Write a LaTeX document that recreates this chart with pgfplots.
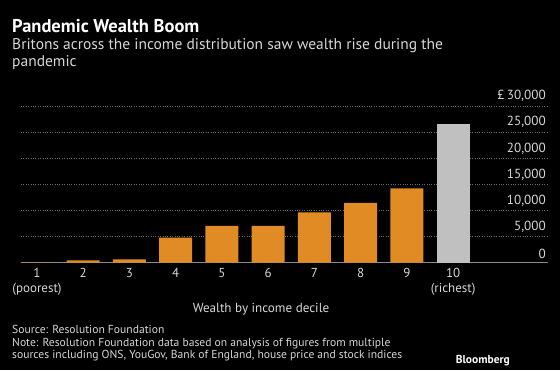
\documentclass[border=0pt]{standalone}
\usepackage{pgfplots}
\pgfplotsset{compat=1.18}
\usepackage{fontspec}
\setmainfont{PT Sans}
\definecolor{bbOrange}{RGB}{224,139,36}
\definecolor{bbGray}{RGB}{192,192,192}
\definecolor{txt}{RGB}{215,215,215}
\definecolor{gridc}{RGB}{110,110,110}
\definecolor{axc}{RGB}{140,140,140}
\begin{document}
\begin{tikzpicture}[x=1pt,y=1pt]
\fill[black] (0,0) rectangle (560,370);
\useasboundingbox (0,0) rectangle (560,370);
\node[anchor=base west,inner sep=0,text=white,font=\fontsize{18.5}{20}\selectfont\bfseries] at (12,337) {Pandemic Wealth Boom};
\node[anchor=base west,inner sep=0,text=txt,font=\fontsize{15.5}{17}\selectfont] at (12,320) {Britons across the income distribution saw wealth rise during the};
\node[anchor=base west,inner sep=0,text=txt,font=\fontsize{15.5}{17}\selectfont] at (12,303) {pandemic};
\begin{axis}[
  at={(21pt,107.3pt)}, anchor=south west,
  scale only axis, width=526pt, height=156.7pt,
  xmin=0.654, xmax=12.03, ymin=0, ymax=30000,
  axis x line*=bottom, axis y line*=right,
  x axis line style={draw=axc, line width=1pt},
  y axis line style={draw=none},
  major tick length=0pt,
  scaled y ticks=false,
  xtick={1,...,10},
  xticklabels={{1\\(poorest)},2,3,4,5,6,7,8,9,{10\\(richest)}},
  xticklabel style={align=center, text=txt, font=\fontsize{13}{15}\selectfont, anchor=north, yshift=-2pt},
  ytick={0,5000,10000,15000,20000,25000,30000},
  yticklabels={0,{5,000},{10,000},{15,000},{20,000},{25,000},{£\,30,000}},
  yticklabel pos=right,
  yticklabel style={anchor=south east, text=txt, font=\fontsize{13.2}{15}\selectfont, inner sep=1pt, xshift=0pt, yshift=3pt},
  /pgf/number format/assume math mode=true,
  ymajorgrids, grid style={gridc, dotted, line width=0.7pt},
  ybar, bar width=33pt, bar shift=0pt,
  clip=false,
]
\addplot[fill=bbOrange, draw=none] coordinates {(1,80) (2,460) (3,650) (4,4790) (5,7030) (6,7030) (7,9650) (8,11440) (9,14250)};
\addplot[fill=bbGray, draw=none] coordinates {(10,26570)};
\end{axis}
\node[anchor=base,inner sep=0,text=txt,font=\fontsize{13.1}{15}\selectfont] at (261,58) {Wealth by income decile};
\node[anchor=base west,inner sep=0,text=txt,font=\fontsize{11.6}{13}\selectfont] at (12,37) {Source: Resolution Foundation};
\node[anchor=base west,inner sep=0,text=txt,font=\fontsize{11.6}{13}\selectfont] at (12,24) {Note: Resolution Foundation data based on analysis of figures from multiple};
\node[anchor=base west,inner sep=0,text=txt,font=\fontsize{11.6}{13}\selectfont] at (12,12) {sources including ONS, YouGov, Bank of England, house price and stock indices};
\node[anchor=base east,inner sep=0,text=white,font=\fontsize{11.5}{13}\selectfont\bfseries] at (510,7) {Bloomberg};
\end{tikzpicture}
\end{document}
